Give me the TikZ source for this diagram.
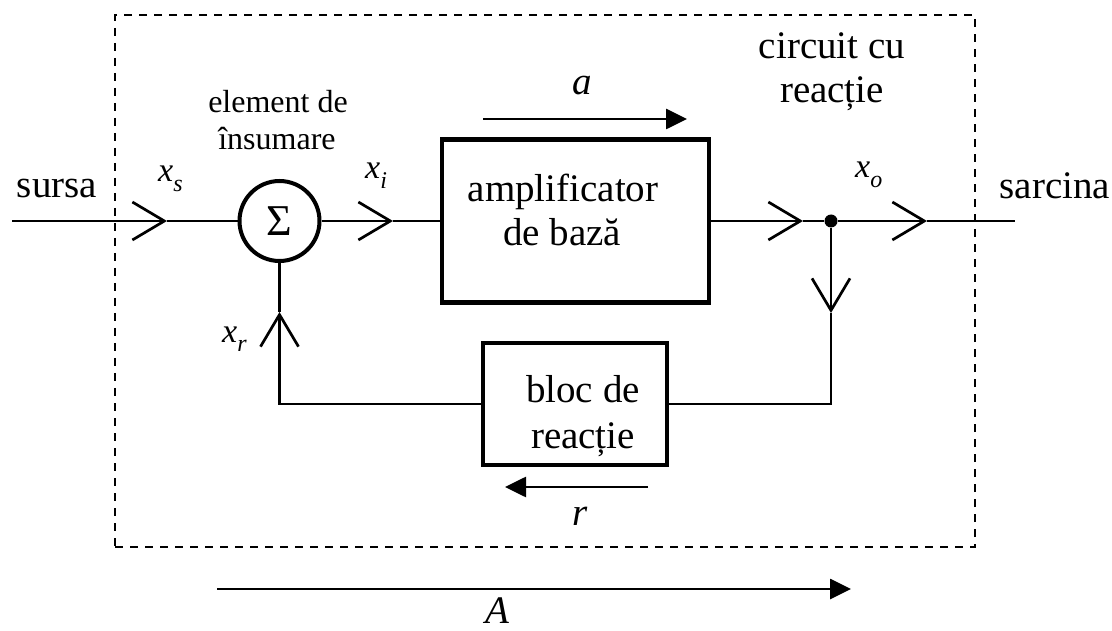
\documentclass[tikz,border=0pt]{standalone}
\usepackage{fontspec}
\setmainfont{Liberation Serif}
\usetikzlibrary{arrows.meta}
\newcommand{\isub}[2]{{\itshape #1}\raisebox{-0.28em}{\fontsize{24}{24}\selectfont\itshape #2}}
\begin{document}
\begin{tikzpicture}[x=1pt,y=-1pt,
  every node/.style={font=\fontsize{39}{44}\selectfont, inner sep=0pt},
  wire/.style={line width=2.7pt},
  vtip/.style={wire, -{Straight Barb[length=32pt,width=38pt]}},
  ftip/.style={wire, -{Triangle[length=21pt,width=20pt]}},
  blockbox/.style={draw, line width=4.5pt},
  lbl/.style={anchor=base},
  mlbl/.style={anchor=base west, font=\fontsize{34}{34}\selectfont},
  small/.style={anchor=base, font=\fontsize{32}{36}\selectfont}]
\useasboundingbox (0,0) rectangle (1112,631);

% frame
\node[draw, line width=2.5pt, dash pattern=on 8pt off 7pt, minimum width=860pt, minimum height=532pt] (frame) at (545,281) {};

% blocks
\node[blockbox, minimum width=267pt, minimum height=163pt] (amp) at (575.5,221) {};
\node[blockbox, minimum width=184pt, minimum height=122pt] (fb) at (575,404) {};
\node[circle, draw, line width=4pt, minimum size=80pt] (sum) at (279.5,221) {\fontsize{44}{44}\selectfont Σ};
\node[circle, fill, minimum size=13pt] (dot) at (831,221) {};

% coordinates
\coordinate (src) at (12,221);
\coordinate (t1) at (167,221);
\coordinate (ti) at (393,221);
\coordinate (to1) at (803,221);
\coordinate (to2) at (927,221);
\coordinate (load) at (1015,221);
\coordinate (td) at (831,313);
\coordinate (cr) at (831,404);
\coordinate (tu) at (279.5,312);

% connectors
\draw[vtip] (src) -- (t1);
\draw[wire] (t1) -- (sum.west);
\draw[vtip] (sum.east) -- (ti);
\draw[wire] (ti) -- (amp.west);
\draw[vtip] (amp.east) -- (to1);
\draw[wire] (to1) -- (dot);
\draw[vtip] (dot) -- (to2);
\draw[wire] (to2) -- (load);
\draw[vtip] (dot) -- (td);
\draw[wire] (td) -- (cr) -- (fb.east);
\draw[vtip] (fb.west) -| (tu);
\draw[wire] (tu) -- (sum.south);

% gain arrows
\coordinate (a1) at (483,119);
\coordinate (a2) at (687,119);
\draw[ftip] (a1) -- (a2);
\coordinate (r1) at (648,487);
\coordinate (r2) at (505,487);
\draw[ftip] (r1) -- (r2);
\coordinate (A1) at (217,589);
\coordinate (A2) at (851,589);
\draw[ftip] (A1) -- (A2);

% texts
\node[lbl] (tsursa) at (57,198) {sursa};
\node[lbl] (tsarcina) at (1055,199) {sarcina};
\node[small] (tel1) at (278,113) {element de};
\node[small] (tel2) at (277,150) {însumare};
\node[lbl] (tcc1) at (832,59) {circuit cu};
\node[lbl] (tcc2) at (832,103) {reacție};
\node[lbl] (tamp1) at (563,202) {amplificator};
\node[lbl] (tamp2) at (562,246) {de bază};
\node[lbl] (tfb1) at (583,402) {bloc de};
\node[lbl] (tfb2) at (583,448) {reacție};
\node[lbl] (ta) at (582,95) {\itshape a};
\node[lbl] (tr) at (580,525) {\itshape r};
\node[lbl] (tA) at (497,623) {\itshape A};
\node[mlbl] (txs) at (158,182) {\isub{x}{s}};
\node[mlbl] (txi) at (365,179) {\isub{x}{i}};
\node[mlbl] (txo) at (855,178) {\isub{x}{o}};
\node[mlbl] (txr) at (222,342) {\isub{x}{r}};
\end{tikzpicture}
\end{document}
